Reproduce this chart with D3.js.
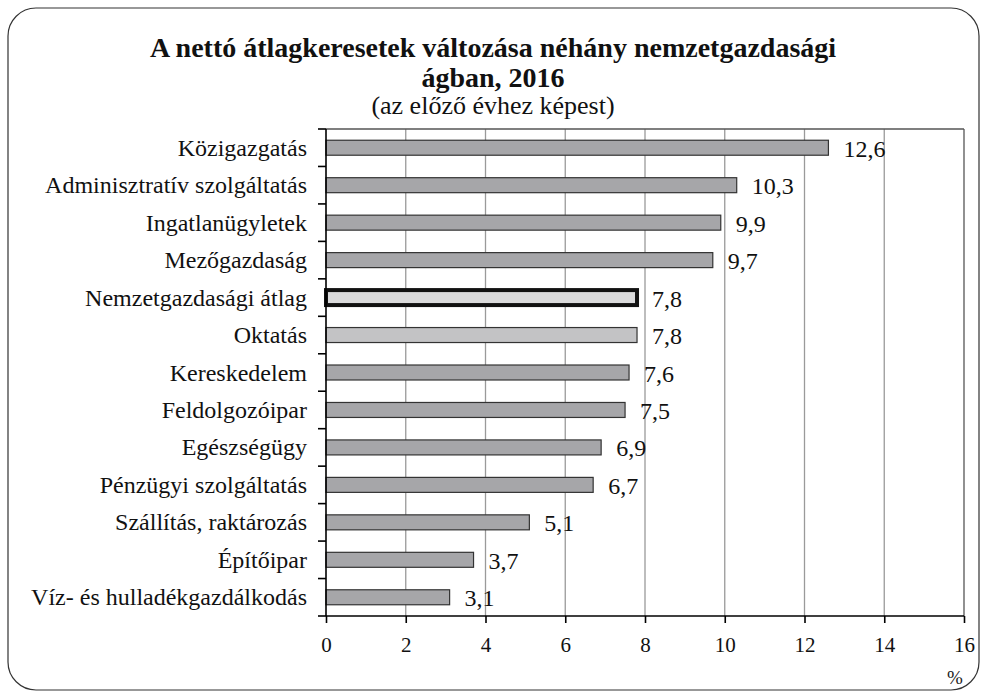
<!DOCTYPE html>
<html>
<head>
<meta charset="utf-8">
<script src="https://d3js.org/d3.v7.min.js"></script>
<style>
  body { margin: 0; background: #fff; }
  svg text { font-family: "Liberation Serif", "DejaVu Serif", serif; fill: #111; }
  .grid line { stroke: #9a9a9a; stroke-width: 1.3px; }
  .frame line { stroke: #555; stroke-width: 1.3px; }
  .axis path, .axis line { stroke: #000; stroke-width: 1.6px; }
  .axis text { font-size: 21px; }
  .cat { font-size: 24px; }
  .val { font-size: 24px; }
</style>
</head>
<body>
<div id="chart"></div>
<script>
  var categories = ["Közigazgatás", "Adminisztratív szolgáltatás", "Ingatlanügyletek", "Mezőgazdaság",
    "Nemzetgazdasági átlag", "Oktatás", "Kereskedelem", "Feldolgozóipar", "Egészségügy",
    "Pénzügyi szolgáltatás", "Szállítás, raktározás", "Építőipar", "Víz- és hulladékgazdálkodás"];
  var values = [12.6, 10.3, 9.9, 9.7, 7.8, 7.8, 7.6, 7.5, 6.9, 6.7, 5.1, 3.7, 3.1];
  var xTicks = [0, 2, 4, 6, 8, 10, 12, 14, 16];

  var width = 987, height = 698;
  var plotLeft = 326, plotRight = 964, plotTop = 129, plotBottom = 616;

  var svg = d3.select("#chart").append("svg")
    .attr("width", width)
    .attr("height", height);

  // rounded frame
  svg.append("rect")
    .attr("x", 8).attr("y", 8)
    .attr("width", 971).attr("height", 682)
    .attr("rx", 28).attr("ry", 28)
    .attr("fill", "none")
    .attr("stroke", "#333")
    .attr("stroke-width", 1.2);

  var x = d3.scaleLinear().domain([0, 16]).range([plotLeft, plotRight]);
  var y = d3.scaleBand().domain(categories).range([plotTop, plotBottom]).paddingInner(0.6).paddingOuter(0.3);
  var band = d3.scaleBand().domain(categories).range([plotTop, plotBottom]);

  // titles
  svg.append("text").attr("x", 493).attr("y", 57).attr("text-anchor", "middle")
    .style("font-size", "28px").style("font-weight", "bold")
    .text("A nettó átlagkeresetek változása néhány nemzetgazdasági");
  svg.append("text").attr("x", 493).attr("y", 87).attr("text-anchor", "middle")
    .style("font-size", "28px").style("font-weight", "bold")
    .text("ágban, 2016");
  svg.append("text").attr("x", 493).attr("y", 114).attr("text-anchor", "middle")
    .style("font-size", "26px")
    .text("(az előző évhez képest)");

  // grid
  var grid = svg.append("g").attr("class", "grid");
  grid.selectAll("line.v").data(xTicks.slice(1, -1)).enter().append("line")
    .attr("class", "v")
    .attr("x1", d => x(d)).attr("x2", d => x(d))
    .attr("y1", plotTop).attr("y2", plotBottom);
  var frame = svg.append("g").attr("class", "frame");
  frame.append("line")
    .attr("x1", plotLeft).attr("x2", plotRight).attr("y1", plotTop).attr("y2", plotTop);
  frame.append("line")
    .attr("x1", x(16)).attr("x2", x(16)).attr("y1", plotTop).attr("y2", plotBottom);

  // bars
  svg.selectAll("rect.bar").data(categories).enter().append("rect")
    .attr("class", "bar")
    .attr("x", x(0))
    .attr("y", d => y(d))
    .attr("width", (d, i) => x(values[i]) - x(0))
    .attr("height", y.bandwidth())
    .attr("fill", d => d === "Nemzetgazdasági átlag" ? "#dadadb" : d === "Oktatás" ? "#c3c3c5" : "#a6a6a9")
    .attr("stroke", d => d === "Nemzetgazdasági átlag" ? "#111" : "#333")
    .attr("stroke-width", d => d === "Nemzetgazdasági átlag" ? 4 : 1.2);

  // value labels
  svg.selectAll("text.val").data(categories).enter().append("text")
    .attr("class", "val")
    .attr("x", (d, i) => x(values[i]) + 15)
    .attr("y", d => y(d) + y.bandwidth() / 2 + 9)
    .text((d, i) => String(values[i]).replace(".", ","));

  // category labels
  svg.selectAll("text.cat").data(categories).enter().append("text")
    .attr("class", "cat")
    .attr("x", plotLeft - 19)
    .attr("y", d => band(d) + band.bandwidth() / 2 + 8)
    .attr("text-anchor", "end")
    .text(d => d);

  // y axis: line and outward ticks at band boundaries
  var yAxis = svg.append("g").attr("class", "axis");
  yAxis.append("line").attr("x1", plotLeft).attr("x2", plotLeft).attr("y1", plotTop).attr("y2", plotBottom);
  yAxis.selectAll("line.t").data(categories).enter().append("line")
    .attr("class", "t")
    .attr("x1", plotLeft - 8).attr("x2", plotLeft)
    .attr("y1", d => band(d) + band.bandwidth()).attr("y2", d => band(d) + band.bandwidth());
  yAxis.append("line").attr("x1", plotLeft - 8).attr("x2", plotLeft).attr("y1", plotTop).attr("y2", plotTop);

  // x axis
  var xAxis = d3.axisBottom(x).tickValues(xTicks).tickSize(7).tickPadding(14).tickFormat(d3.format("d"));
  svg.append("g").attr("class", "axis")
    .attr("transform", "translate(0," + plotBottom + ")")
    .call(xAxis)
    .attr("font-family", null).attr("font-size", null)
    .call(g => g.select(".domain").attr("d", "M" + plotLeft + ",0H" + plotRight));

  svg.append("text").attr("x", 955).attr("y", 684).attr("text-anchor", "middle")
    .style("font-size", "19px").style("fill", "#222").text("%");
</script>
</body>
</html>
